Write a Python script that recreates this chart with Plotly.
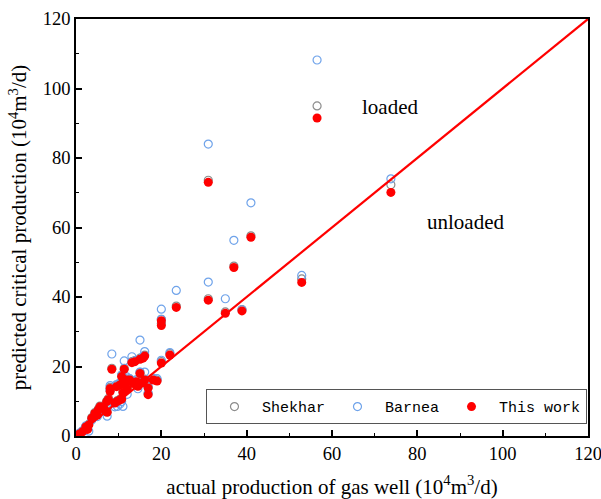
import plotly.graph_objects as go

# actual production (x) and predicted critical production for each model
actual = [56.5, 31.0, 73.8, 41.0, 37.0, 52.9, 31.0, 23.5, 35.0, 38.9,
          20.0, 20.0, 22.0, 20.0,
          0.8, 1.5, 2.3, 2.7, 3.0, 3.7, 4.4, 5.0, 5.2, 5.6,
          6.4, 6.8, 7.2, 7.3, 7.6, 8.0, 8.0, 8.4, 9.1, 9.5,
          9.7, 10.3, 10.3, 10.7, 11.1, 11.3, 11.5, 11.9, 12.6, 13.1,
          13.4, 13.8, 14.2, 15.0, 15.0, 15.4, 15.7, 16.1, 16.1, 16.9,
          16.9, 18.1, 19.0, 10.7, 12.0, 14.5, 11.0]
this_work = [91.5, 73.0, 70.1, 57.2, 48.5, 44.2, 39.1, 37.0, 35.3, 36.0,
             33.2, 31.8, 23.3, 21.0,
             0.6, 1.2, 2.6, 1.9, 3.2, 5.1, 6.5, 6.0, 7.5, 8.4,
             8.4, 7.4, 9.9, 6.8, 10.5, 13.7, 12.8, 19.2, 9.5, 14.2,
             10.0, 14.7, 10.4, 10.6, 16.1, 19.2, 14.7, 16.1, 16.1, 21.1,
             15.1, 21.4, 15.6, 22.1, 18.0, 15.2, 22.4, 23.0, 16.1, 13.8,
             11.9, 16.1, 15.8, 17.1, 13.5, 14.3, 12.5]
shekhar = [95.0, 73.6, 72.3, 57.6, 48.9, 45.2, 39.5, 37.4, 35.7, 36.4,
           33.6, 32.4, 23.7, 21.4,
           0.7, 1.3, 2.8, 2.1, 3.4, 5.3, 6.7, 6.2, 7.7, 8.6,
           8.6, 7.6, 10.1, 7.0, 10.8, 14.0, 13.1, 19.5, 9.7, 14.5,
           10.2, 15.0, 10.6, 10.8, 16.4, 19.5, 15.0, 16.4, 16.4, 21.4,
           15.4, 21.7, 15.9, 22.4, 18.3, 15.5, 22.7, 23.3, 16.4, 14.1,
           12.2, 16.4, 16.1, 17.4, 13.8, 14.5, 12.8]
barnea = [108.2, 84.0, 74.0, 67.1, 56.3, 46.2, 44.3, 41.9, 39.5, 36.3,
          36.5, 33.6, 24.0, 21.8,
          0.8, 1.5, 2.9, 2.2, 1.4, 4.6, 6.2, 5.6, 7.0, 7.9,
          8.0, 7.0, 9.2, 5.7, 10.0, 14.5, 13.3, 23.6, 8.4, 14.8,
          8.5, 15.4, 9.2, 9.9, 16.8, 21.6, 15.5, 17.0, 16.5, 22.8,
          15.8, 21.6, 16.2, 27.6, 18.4, 16.0, 22.9, 24.3, 18.4, 14.2,
          12.3, 16.6, 16.5, 17.6, 12.0, 13.6, 8.5]

line_x = [0, 120]
line_y = [0, 120]

x_ticks = [0, 20, 40, 60, 80, 100, 120]
y_ticks = [0, 20, 40, 60, 80, 100, 120]

serif = "Liberation Serif, Times New Roman, serif"

fig = go.Figure()
fig.add_trace(go.Scatter(x=actual, y=shekhar, mode="markers", name="Shekhar",
                         marker=dict(symbol="circle-open", size=8, color="#8c8c8c",
                                     line=dict(width=1.2))))
fig.add_trace(go.Scatter(x=actual, y=barnea, mode="markers", name="Barnea",
                         marker=dict(symbol="circle-open", size=8, color="#6fa3ea",
                                     line=dict(width=1.2))))
fig.add_trace(go.Scatter(x=actual, y=this_work, mode="markers", name="This work",
                         marker=dict(symbol="circle", size=9, color="#ff0000")))
fig.add_trace(go.Scatter(x=line_x, y=line_y, mode="lines", showlegend=False,
                         line=dict(color="#ff0000", width=2.2)))

fig.add_annotation(x=73.5, y=94.8, text="loaded", showarrow=False,
                   font=dict(family=serif, size=21, color="black"))
fig.add_annotation(x=91.4, y=61.7, text="unloaded", showarrow=False,
                   font=dict(family=serif, size=21, color="black"))

axis_common = dict(showgrid=False, zeroline=False, showline=True, linecolor="black",
                   linewidth=1.5, mirror=True, ticks="inside", ticklen=6, tickwidth=1.5,
                   tickcolor="black", automargin=False, ticklabeloverflow="allow",
                   tickfont=dict(family=serif, size=18.5, color="black"),
                   minor=dict(ticks="inside", ticklen=3, tickwidth=1.2, tickcolor="black",
                              dtick=10))

fig.update_xaxes(range=[0, 120], tickvals=x_ticks,
                 title=dict(text="actual production of gas well (10<sup>4</sup>m<sup>3</sup>/d)",
                            font=dict(family=serif, size=21, color="black"), standoff=16),
                 **axis_common)
fig.update_yaxes(range=[0, 120], tickvals=y_ticks,
                 title=dict(text="predicted critical production (10<sup>4</sup>m<sup>3</sup>/d)",
                            font=dict(family=serif, size=21, color="black"), standoff=10),
                 **axis_common)

fig.update_layout(
    width=601, height=499,
    margin=dict(l=76, r=13, t=19, b=63),
    plot_bgcolor="white", paper_bgcolor="white",
    legend=dict(orientation="h", x=0.998, xanchor="right", y=0.028, yanchor="bottom",
                bgcolor="white", bordercolor="#555555", borderwidth=1, itemwidth=45,
                font=dict(family="Liberation Mono, Courier New, monospace", size=15,
                          color="black")),
)

fig.write_html("out.html")
